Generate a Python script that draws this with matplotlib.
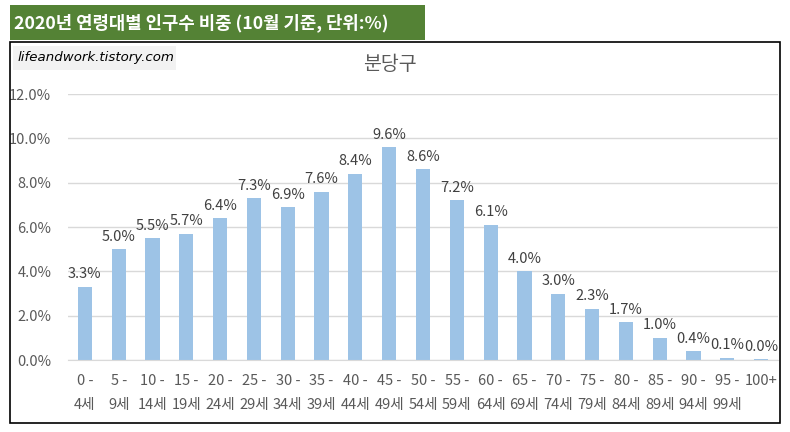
import numpy as np
import matplotlib.pyplot as plt
from matplotlib.patches import Rectangle

plt.rcParams['font.family'] = ['Noto Sans CJK KR', 'DejaVu Sans']

age_groups = ["0 -\n4세", "5 -\n9세", "10 -\n14세", "15 -\n19세", "20 -\n24세",
              "25 -\n29세", "30 -\n34세", "35 -\n39세", "40 -\n44세", "45 -\n49세",
              "50 -\n54세", "55 -\n59세", "60 -\n64세", "65 -\n69세", "70 -\n74세",
              "75 -\n79세", "80 -\n84세", "85 -\n89세", "90 -\n94세", "95 -\n99세", "100+"]
shares = [3.3, 5.0, 5.5, 5.7, 6.4, 7.3, 6.9, 7.6, 8.4, 9.6, 8.6,
          7.2, 6.1, 4.0, 3.0, 2.3, 1.7, 1.0, 0.4, 0.1, 0.04]

fig = plt.figure(figsize=(7.9, 4.32), dpi=100)

# outer chart border
fig.patches.append(Rectangle((10 / 790, 9 / 432), 770 / 790, 381 / 432,
                             transform=fig.transFigure, fill=False,
                             edgecolor='black', linewidth=1.2))
# green header
fig.patches.append(Rectangle((10 / 790, 392 / 432), 415 / 790, 35 / 432,
                             transform=fig.transFigure, facecolor='#548235',
                             edgecolor='none'))
fig.text(14 / 790, 409 / 432, "2020년 연령대별 인구수 비중 (10월 기준, 단위:%)",
         color='white', fontsize=12.8, fontweight='bold', va='center', ha='left')

# watermark box
fig.patches.append(Rectangle((13 / 790, 362 / 432), 163 / 790, 24 / 432,
                             transform=fig.transFigure, facecolor='#F2F2F2',
                             edgecolor='none'))
fig.text(18 / 790, 374 / 432, "lifeandwork.tistory.com", fontsize=9.6,
         style='italic', color='black', va='center', ha='left',
         family=['DejaVu Sans'])

fig.text(390 / 790, 367 / 432, "분당구", fontsize=14, color='#595959',
         ha='center', va='center')

ax = fig.add_axes([68 / 790, 72 / 432, 710 / 790, 266 / 432])
x = np.arange(len(shares))
ax.bar(x, shares, width=0.42, color='#9DC3E6', zorder=2)
for xi, v in zip(x, shares):
    ax.text(xi, v + 0.25, f"{v:.1f}%", ha='center', va='bottom',
            fontsize=10.5, color='#404040')

ax.set_xlim(-0.5, len(shares) - 0.5)
ax.set_ylim(0, 12)
ax.set_yticks(np.arange(0, 12.1, 2))
ax.set_yticklabels([f"{t:.1f}%" for t in np.arange(0, 12.1, 2)])
ax.yaxis.grid(True, color='#D9D9D9', linewidth=1, zorder=0)
ax.set_xticks(x)
ax.set_xticklabels(age_groups, linespacing=1.95, va='top')
ax.tick_params(axis='both', length=0, labelsize=10.5, colors='#595959')
ax.tick_params(axis='x', pad=10)
ax.tick_params(axis='y', pad=12)
for s in ['top', 'right', 'left']:
    ax.spines[s].set_visible(False)
ax.spines['bottom'].set_color('#D9D9D9')

fig.savefig("out.png", dpi=100)
